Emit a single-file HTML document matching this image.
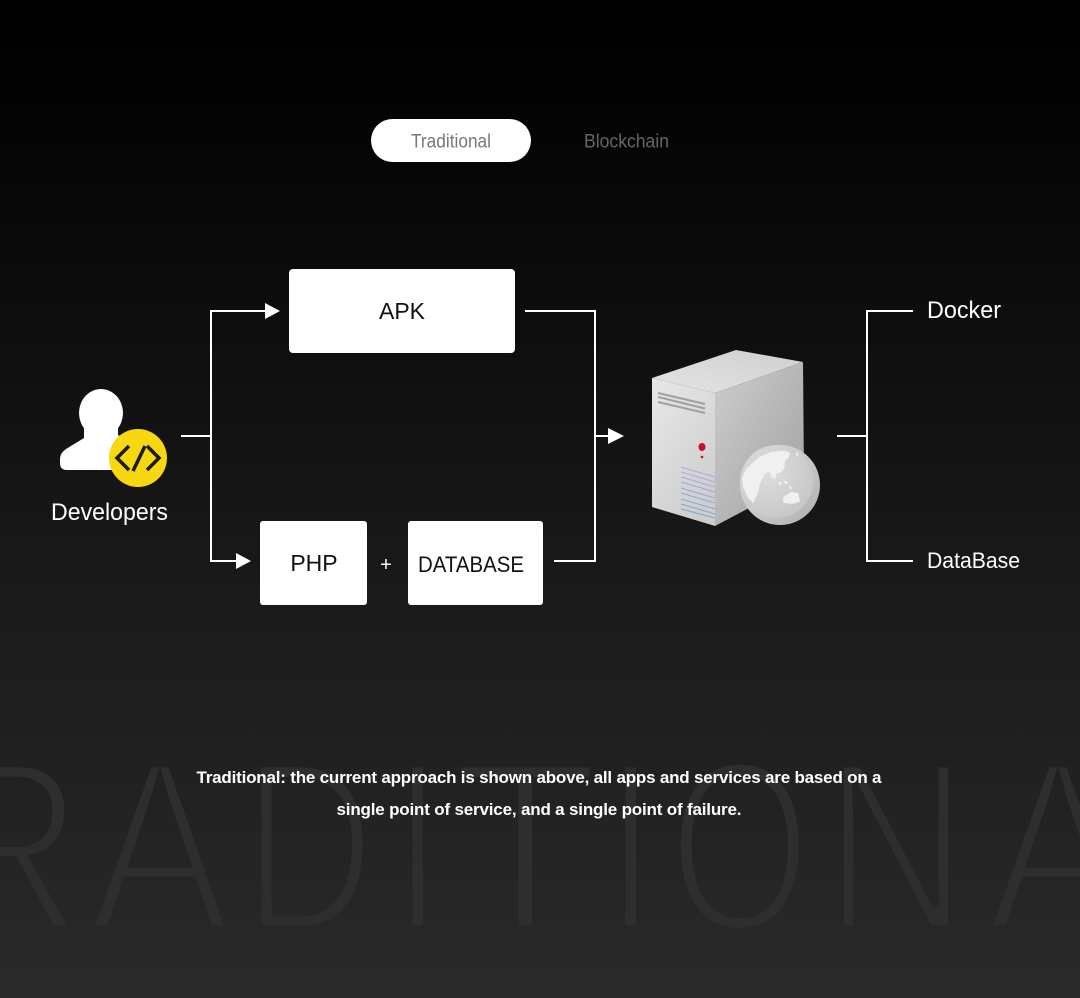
<!DOCTYPE html>
<html>
<head>
<meta charset="utf-8">
<style>
html,body{margin:0;padding:0;width:1080px;height:998px;overflow:hidden;background:#000}
svg{display:block}
</style>
</head>
<body>
<svg width="1080" height="998" viewBox="0 0 1080 998" xmlns="http://www.w3.org/2000/svg" font-family="'Liberation Sans',sans-serif">
<defs>
<linearGradient id="bg" gradientUnits="userSpaceOnUse" x1="0" y1="0" x2="0" y2="998">
<stop offset="0" stop-color="#000"/><stop offset="0.1" stop-color="#030303"/><stop offset="0.5" stop-color="#161616"/><stop offset="1" stop-color="#2a2a2a"/>
</linearGradient>
<linearGradient id="front" x1="0" y1="0" x2="0.600" y2="1">
<stop offset="0" stop-color="#e8e8e8"/><stop offset="1" stop-color="#cecece"/>
</linearGradient>
<linearGradient id="side" x1="0" y1="0" x2="1" y2="1">
<stop offset="0" stop-color="#cdcdcd"/><stop offset="1" stop-color="#a0a0a0"/>
</linearGradient>
<linearGradient id="top" x1="0" y1="1" x2="1" y2="0">
<stop offset="0" stop-color="#e4e4e4"/><stop offset="1" stop-color="#cfcfcf"/>
</linearGradient>
<linearGradient id="globeOuter" x1="0" y1="0" x2="1" y2="1">
<stop offset="0" stop-color="#e0e0e0"/><stop offset="0.6" stop-color="#c4c4c4"/><stop offset="1" stop-color="#aeaeae"/>
</linearGradient>
<radialGradient id="globe" cx="0.35" cy="0.35" r="0.75">
<stop offset="0" stop-color="#dedede"/><stop offset="1" stop-color="#c6c6c6"/>
</radialGradient>
</defs>
<rect width="1080" height="998" fill="url(#bg)"/>

<!-- Watermark -->
<g font-size="243" fill="#2e2e2e" stroke="url(#bg)" stroke-width="9">
<text y="930" transform="translate(-66,0) scale(0.85,1)">R</text>
<text y="930" transform="translate(89,0) scale(0.87,1)">A</text>
<text y="930" transform="translate(243,0) scale(0.75,1)">D</text>
<text y="930" transform="translate(392,0) scale(0.76,1)">I</text>
<text y="930" transform="translate(451,0) scale(1,1)">T</text>
<text y="930" transform="translate(605,0) scale(0.76,1)">I</text>
<text y="930" transform="translate(669,0) scale(0.75,1)">O</text>
<text y="930" transform="translate(824,0) scale(0.82,1)">N</text>
<text y="930" transform="translate(987,0) scale(0.87,1)">A</text>
</g>

<!-- Tabs -->
<rect x="371" y="119" width="160" height="43" rx="21.500" fill="#fff"/>
<text x="451" y="147.500" font-size="19" fill="#777" text-anchor="middle" textLength="80" lengthAdjust="spacingAndGlyphs">Traditional</text>
<text x="626.500" y="147.500" font-size="19" fill="#666" text-anchor="middle" textLength="85" lengthAdjust="spacingAndGlyphs">Blockchain</text>

<!-- Connectors -->
<g fill="none" stroke="#fff" stroke-width="2">
<path d="M181 436H211M266 311H211V561H236"/>
<path d="M525 311H595V561H554M595 436H610"/>
<path d="M837 436H867M913 311H867V561H913"/>
</g>
<g fill="#fff">
<polygon points="265,303 280,311 265,319"/>
<polygon points="236,553 251,561 236,569"/>
<polygon points="608,428 624,436 608,444"/>
</g>

<!-- Boxes -->
<g fill="#fff">
<rect x="289" y="269" width="226" height="84" rx="4"/>
<rect x="260" y="521" width="107" height="84" rx="3"/>
<rect x="408" y="521" width="135" height="84" rx="3"/>
</g>
<g fill="#111" text-anchor="middle">
<text x="402" y="319" font-size="23">APK</text>
<text x="314" y="571" font-size="23">PHP</text>
<text x="471" y="572" font-size="22" textLength="106" lengthAdjust="spacingAndGlyphs">DATABASE</text>
</g>
<text x="386" y="571" font-size="20" fill="#fff" text-anchor="middle">+</text>

<!-- Labels -->
<g fill="#fff">
<text x="927" y="318" font-size="24" textLength="74" lengthAdjust="spacingAndGlyphs">Docker</text>
<text x="927" y="568" font-size="22.500" textLength="93" lengthAdjust="spacingAndGlyphs">DataBase</text>
<text x="51" y="520" font-size="24" textLength="117" lengthAdjust="spacingAndGlyphs">Developers</text>
</g>

<!-- Developer icon -->
<g fill="#fff">
<ellipse cx="101" cy="413" rx="22" ry="24"/>
<path d="M84 425H118V435L135 445V470H67Q60 470 60 463V459Q60 453 66 449L84 438Z"/>
</g>
<circle cx="138" cy="458" r="29" fill="#f7d70f"/>
<g fill="none" stroke="#1a1a1a" stroke-width="3.500">
<path d="M129 446L117 458L129 470"/>
<path d="M147 446L159 458L147 470"/>
<path d="M145 446L133 471"/>
</g>

<!-- Server -->
<polygon points="652,378 736,350 803,362 715,393" fill="url(#top)"/>
<polygon points="652,378 715,393 715,526 652,507" fill="url(#front)"/>
<polygon points="715,393 803,362 804,479 715,526" fill="url(#side)"/>
<g stroke="#a0a0a0" stroke-width="2" fill="none">
<path d="M658 393L705 404M658 397L705 408.500M658 402L705 413"/>
</g>
<ellipse cx="702" cy="447" rx="3.500" ry="4" fill="#c8102e"/>
<circle cx="702" cy="457" r="1.300" fill="#b01028"/>
<g stroke-width="1" fill="none">
<path d="M681 467L715 477" stroke="#b8a4d8"/>
<path d="M681 472L715 482" stroke="#b0a8d8"/>
<path d="M681 477L715 487" stroke="#a8a8d8"/>
<path d="M681 482L715 492" stroke="#a0a8d8"/>
<path d="M681 488L715 498" stroke="#98a8d8"/>
<path d="M681 493L715 503" stroke="#90a8d8"/>
<path d="M681 499L715 509" stroke="#88a8d8"/>
<path d="M681 504L715 514" stroke="#80a8d8"/>
<path d="M681 509L715 518" stroke="#78a8d8"/>
</g>
<circle cx="780" cy="485" r="40" fill="url(#globeOuter)"/>
<circle cx="776.500" cy="481.500" r="36.500" fill="url(#globe)"/>
<g fill="#f0f0f0">
<polygon points="760,456.700 771.700,451.700 785,450.700 790,452.700 788.300,458.300 785,460.700 784.300,468.300 780,473.300 776.700,473.300 775,479.300 771,476.700 770,471.700 765,473.300 760,483.300 758.300,491.700 753.300,503.300 748.300,498.300 743.300,488.300 741.700,478.300 746.700,468.300"/>
<polygon points="783.300,496.700 791.700,491.700 798.300,493.300 800,501.700 791.700,504 783.300,502.700"/>
<polygon points="778,481 782,483 780,486"/>
<polygon points="783,480 788,482 786,485"/>
<polygon points="789,485 793,488 790,489"/>
<polygon points="796.700,451.700 798.300,453 798.300,456.700 796,455"/>
</g>

<!-- Caption -->
<g fill="#fff" font-size="17" font-weight="bold" text-anchor="middle">
<text x="539" y="783" textLength="685">Traditional: the current approach is shown above, all apps and services are based on a</text>
<text x="539" y="815" textLength="405">single point of service, and a single point of failure.</text>
</g>
</svg>
</body>
</html>
